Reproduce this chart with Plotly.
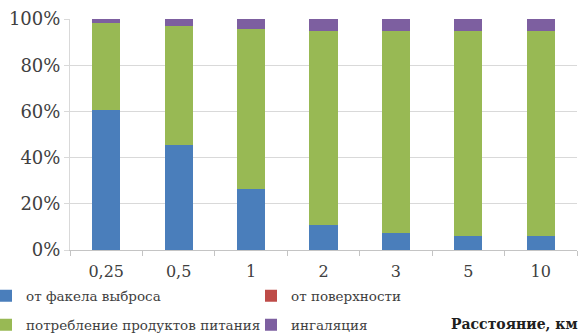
import plotly.graph_objects as go

categories = ["0,25", "0,5", "1", "2", "3", "5", "10"]
plume = [60.5, 45.5, 26.3, 10.8, 7.5, 6.2, 6.2]
surface = [0, 0, 0, 0, 0, 0, 0]
food = [37.6, 51.5, 69.2, 84.0, 87.3, 88.6, 88.6]
inhalation = [1.9, 3.0, 4.5, 5.2, 5.2, 5.2, 5.2]

names = ["от факела выброса", "от поверхности", "потребление продуктов питания", "ингаляция"]
colors = ["#4a7ebb", "#be4b48", "#98b954", "#7d5fa0"]
series = [plume, surface, food, inhalation]
legend_ids = ["legend", "legend2", "legend3", "legend4"]

L, T, W, H = 70, 19, 507, 231

def px(xp):
    return (xp - L) / W

def py(yp):
    return (T + H - yp) / H

fig = go.Figure()
for name, vals, col, lg in zip(names, series, colors, legend_ids):
    fig.add_trace(go.Bar(x=categories, y=vals, name=name, marker_color=col,
                         marker_line_width=0, legend=lg))

serif = "DejaVu Serif"
lfont = dict(family=serif, size=13.5, color="#404040")
leg_pos = [(-14, 296), (251, 296), (-14, 325), (251, 325)]
legs = {}
for lg, (lx, ly) in zip(legend_ids, leg_pos):
    legs[lg] = dict(orientation="h", x=px(lx), xanchor="left", y=py(ly), yanchor="middle",
                    font=dict(lfont), bgcolor="rgba(0,0,0,0)", borderwidth=0)

fig.update_layout(
    width=581, height=333,
    margin=dict(l=L, r=581 - L - W, t=T, b=333 - T - H, autoexpand=False),
    barmode="stack", barnorm="percent", bargap=0.61,
    plot_bgcolor="white", paper_bgcolor="white",
    font=dict(family=serif, size=14, color="#404040"),
    showlegend=True,
    xaxis=dict(type="category", showgrid=False, showline=True, linecolor="#c4c4c4",
               ticks="outside", tickson="boundaries", ticklen=5, tickcolor="#c4c4c4",
               automargin=False, ticklabelstandoff=7,
               tickfont=dict(family=serif, size=16, color="#404040")),
    yaxis=dict(range=[0, 100], dtick=20, ticksuffix="%", showgrid=True, gridcolor="#d9d9d9",
               zeroline=False, showline=True, linecolor="#d9d9d9", ticks="outside", ticklen=5,
               tickcolor="#d9d9d9", automargin=False,
               tickfont=dict(family=serif, size=18, color="#404040")),
    annotations=[dict(text="<b>Расстояние, км</b>", xref="paper", yref="paper",
                      x=px(449), y=py(324), xanchor="left", yanchor="middle",
                      showarrow=False, font=dict(family=serif, size=14, color="#202020"))],
    **legs,
)

fig.write_html("out.html")
